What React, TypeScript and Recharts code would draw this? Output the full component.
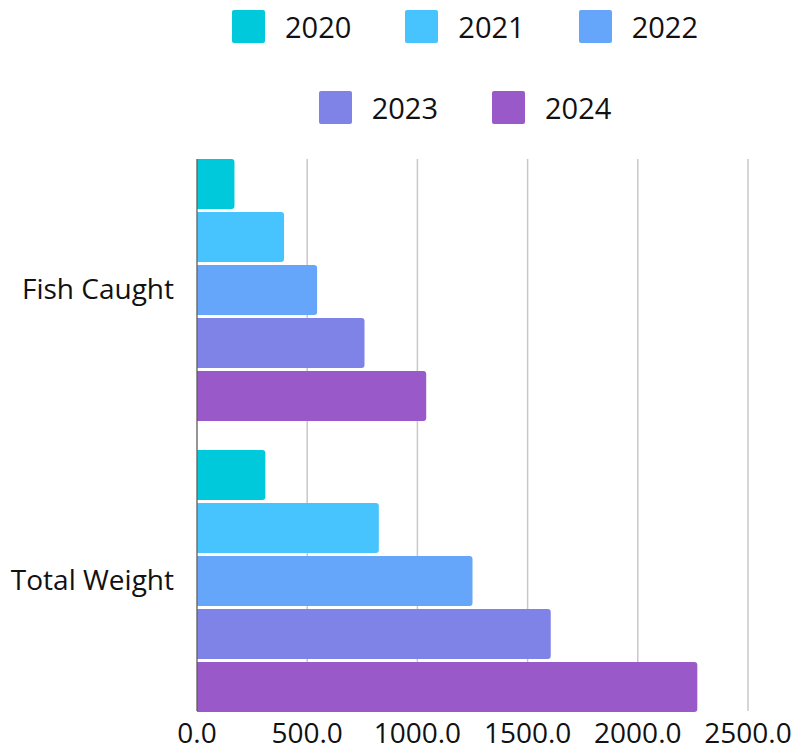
import React from 'react';
import { BarChart, Bar, XAxis, YAxis, CartesianGrid } from 'recharts';

const categories = ['Fish Caught', 'Total Weight'];
const years = ['2020', '2021', '2022', '2023', '2024'];
const values2020 = [170, 310];
const values2021 = [395, 825];
const values2022 = [545, 1250];
const values2023 = [760, 1605];
const values2024 = [1040, 2270];
const xTicks = [0, 500, 1000, 1500, 2000, 2500];

const colors = ['#00c9db', '#47c4fe', '#65a6fa', '#7f82e6', '#9a59c9'];
const font = '"Open Sans", sans-serif';

const seriesValues = [values2020, values2021, values2022, values2023, values2024];
const data = categories.map((name, i) => {
  const row: Record<string, string | number> = { name };
  years.forEach((y, j) => {
    row[y] = seriesValues[j][i];
  });
  return row;
});

const LegendItem = ({ label, color }: { label: string; color: string }) => (
  <div style={{ display: 'flex', alignItems: 'center', margin: '0 27px' }}>
    <div style={{ width: 33, height: 33, background: color, borderRadius: 2 }} />
    <span style={{ marginLeft: 20, fontSize: 29, color: '#111' }}>{label}</span>
  </div>
);

const App: React.FC = () => {
  return (
    <div style={{ position: 'absolute', left: 0, top: 0, width: 801, height: 752, fontFamily: font }}>
      <div style={{ position: 'absolute', left: 130, width: 670, top: 10 }}>
        <div style={{ display: 'flex', justifyContent: 'center', height: 33 }}>
          {years.slice(0, 3).map((y, i) => (
            <LegendItem key={y} label={y} color={colors[i]} />
          ))}
        </div>
        <div style={{ display: 'flex', justifyContent: 'center', height: 33, marginTop: 48 }}>
          {years.slice(3).map((y, i) => (
            <LegendItem key={y} label={y} color={colors[i + 3]} />
          ))}
        </div>
      </div>
      <BarChart
        width={801}
        height={752}
        data={data}
        layout="vertical"
        margin={{ top: 159, right: 53, left: 0, bottom: 11 }}
        barCategoryGap={15}
        barGap={3}
      >
        <CartesianGrid horizontal={false} stroke="#c8c8c8" strokeWidth={1.5} />
        <XAxis
          type="number"
          domain={[0, 2500]}
          ticks={xTicks}
          tickFormatter={(v: number) => v.toFixed(1)}
          axisLine={false}
          tickLine={false}
          tickMargin={6}
          height={30}
          tick={{ fill: '#111', fontSize: 28, fontFamily: font }}
        />
        <YAxis
          type="category"
          dataKey="name"
          width={197}
          padding={{ top: -15, bottom: -15 }}
          axisLine={{ stroke: '#555', strokeWidth: 1 }}
          tickLine={false}
          tickMargin={17}
          tick={{ fill: '#111', fontSize: 28, fontFamily: font }}
        />
        {years.map((y, i) => (
          <Bar
            key={y}
            dataKey={y}
            fill={colors[i]}
            radius={[0, 3, 3, 0]}
            isAnimationActive={false}
          />
        ))}
      </BarChart>
    </div>
  );
};

export default App;
